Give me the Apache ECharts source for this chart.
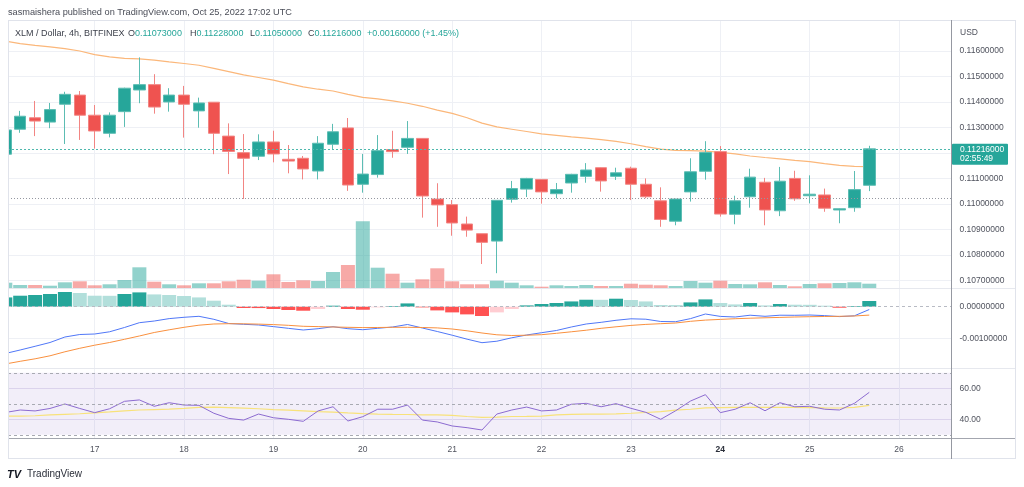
<!DOCTYPE html>
<html><head><meta charset="utf-8">
<script src="https://cdn.jsdelivr.net/npm/echarts@6/dist/echarts.min.js"></script>
<style>html,body{margin:0;padding:0;background:#fff;}#c{width:1024px;height:487px;}</style>
</head><body><div id="c"></div>
<script>
// ---- data (XLM/USD 4h, Bitfinex, Oct 16 00:00 → Oct 25 16:00) ----
const opens = [0.11195,0.11293,0.11338,0.11321,0.11391,0.11427,0.11348,0.11277,0.11362,0.11447,
0.11468,0.11400,0.11427,0.11365,0.11399,0.11266,0.11201,0.11187,0.11243,0.11175,
0.11179,0.11129,0.11234,0.11298,0.11077,0.11115,0.11213,0.11222,0.11257,0.11019,
0.10997,0.10921,0.10883,0.10854,0.11018,0.11058,0.11096,0.11040,0.11082,0.11108,
0.11142,0.11108,0.11140,0.11077,0.11012,0.10932,0.11047,0.11128,0.11205,0.10959,
0.11028,0.11085,0.10973,0.11100,0.11032,0.11035,0.10976,0.10985,0.11073];
const highs = [0.11305,0.11365,0.11404,0.11396,0.11440,0.11443,0.11388,0.11359,0.11456,0.11575,
0.11509,0.11454,0.11463,0.11417,0.11399,0.11316,0.11274,0.11273,0.11287,0.11231,
0.11188,0.11266,0.11314,0.11337,0.11196,0.11270,0.11287,0.11325,0.11258,0.11081,
0.11015,0.10950,0.10883,0.11015,0.11090,0.11102,0.11097,0.11082,0.11118,0.11160,
0.11143,0.11142,0.11146,0.11100,0.11065,0.11020,0.11179,0.11246,0.11227,0.11032,
0.11138,0.11102,0.11145,0.11130,0.11112,0.11060,0.10982,0.11129,0.11228];
const lows = [0.11180,0.11279,0.11266,0.11297,0.11235,0.11251,0.11217,0.11261,0.11302,0.11395,
0.11354,0.11362,0.11260,0.11299,0.11195,0.11117,0.11019,0.11172,0.11163,0.11120,
0.11096,0.11096,0.11214,0.11051,0.11044,0.11103,0.11181,0.11196,0.10946,0.10910,
0.10875,0.10871,0.10764,0.10728,0.11005,0.11027,0.11001,0.11022,0.11044,0.11083,
0.11048,0.11094,0.11015,0.11022,0.10910,0.10916,0.11009,0.11095,0.10950,0.10920,
0.10985,0.10916,0.10952,0.11012,0.11002,0.10969,0.10924,0.10969,0.11050];
const closes = [0.11290,0.11344,0.11325,0.11370,0.11430,0.11348,0.11286,0.11348,0.11454,0.11468,
0.11380,0.11427,0.11391,0.11396,0.11277,0.11206,0.11179,0.11243,0.11196,0.11168,
0.11137,0.11238,0.11283,0.11074,0.11117,0.11209,0.11205,0.11257,0.11031,0.10996,
0.10925,0.10897,0.10849,0.11014,0.11060,0.11100,0.11047,0.11056,0.11116,0.11133,
0.11090,0.11122,0.11077,0.11028,0.10939,0.11019,0.11126,0.11202,0.10960,0.11012,
0.11105,0.10976,0.11089,0.11020,0.11038,0.10983,0.10981,0.11056,0.11216];
const movingAvg = [0.11639,0.11629,0.11622,0.11616,0.11609,0.11600,0.11586,0.11577,0.11571,0.11569,
0.11564,0.11557,0.11551,0.11544,0.11532,0.11519,0.11506,0.11496,0.11486,0.11472,
0.11459,0.11450,0.11443,0.11430,0.11418,0.11412,0.11404,0.11395,0.11383,0.11368,
0.11355,0.11338,0.11317,0.11302,0.11293,0.11284,0.11275,0.11269,0.11263,0.11258,
0.11252,0.11245,0.11236,0.11225,0.11215,0.11210,0.11209,0.11207,0.11202,0.11196,
0.11188,0.11182,0.11177,0.11171,0.11166,0.11158,0.11151,0.11147,0.11146];
const volume = [5.3,3,3,2.3,5.7,6.7,2.7,3.7,8,20.7,
6.3,3.7,2.7,4.7,4.7,6.7,8.3,7.3,13.7,6,
7.7,7,16,23,66.7,20.3,14.3,5.3,8.7,19.7,
6.7,3.7,3.7,7.3,5.3,2.7,1.3,2.7,2,3,
2,2,4.3,3.3,2.7,2,7,5.3,7.3,4,
3.7,5.7,3,1.7,4,4.7,5,5.7,4.3];
const macdHist = [0.000294,0.000348,0.000370,0.000402,0.000465,0.000434,0.000348,0.000345,0.000402,0.000453,
0.000389,0.000370,0.000338,0.000294,0.000190,0.000063,-0.000041,-0.000043,-0.000073,-0.000104,
-0.000127,-0.000073,0.000032,-0.000073,-0.000095,-0.000022,0.000022,0.000104,-0.000022,-0.000117,
-0.000180,-0.000243,-0.000294,-0.000180,-0.000073,0.000041,0.000085,0.000117,0.000167,0.000221,
0.000218,0.000253,0.000212,0.000167,0.000054,0.000052,0.000136,0.000231,0.000117,0.000073,
0.000117,0.000041,0.000085,0.000063,0.000060,0.000032,-0.000032,0.000022,0.000180];
const macdLine = [-0.001481,-0.001370,-0.001253,-0.001133,-0.000959,-0.000880,-0.000864,-0.000794,-0.000658,-0.000506,
-0.000453,-0.000377,-0.000335,-0.000304,-0.000399,-0.000532,-0.000557,-0.000579,-0.000630,-0.000684,
-0.000737,-0.000696,-0.000633,-0.000696,-0.000728,-0.000684,-0.000642,-0.000563,-0.000674,-0.000785,
-0.000902,-0.001028,-0.001139,-0.001092,-0.000984,-0.000896,-0.000823,-0.000753,-0.000642,-0.000547,
-0.000494,-0.000430,-0.000383,-0.000396,-0.000468,-0.000475,-0.000377,-0.000231,-0.000307,-0.000326,
-0.000269,-0.000304,-0.000269,-0.000272,-0.000263,-0.000282,-0.000313,-0.000288,-0.000089];
const signalLine = [-0.001813,-0.001728,-0.001649,-0.001554,-0.001427,-0.001316,-0.001218,-0.001133,-0.001032,-0.000927,
-0.000816,-0.000731,-0.000652,-0.000585,-0.000547,-0.000538,-0.000541,-0.000551,-0.000566,-0.000589,
-0.000620,-0.000630,-0.000642,-0.000652,-0.000661,-0.000658,-0.000652,-0.000652,-0.000658,-0.000671,
-0.000706,-0.000763,-0.000832,-0.000889,-0.000911,-0.000902,-0.000886,-0.000842,-0.000794,-0.000744,
-0.000684,-0.000636,-0.000592,-0.000560,-0.000538,-0.000516,-0.000462,-0.000424,-0.000402,-0.000380,
-0.000364,-0.000351,-0.000339,-0.000326,-0.000316,-0.000310,-0.000304,-0.000294,-0.000266];
const rsi = [44.4,46.0,45.4,47.0,49.9,47.0,44.3,46.8,51.6,52.5,
48.4,50.7,49.2,49.0,43.9,40.6,39.5,43.4,41.0,40.0,
38.7,45.4,48.1,38.9,41.7,46.5,46.5,49.2,39.5,38.3,
35.7,34.6,33.1,43.4,46.0,47.9,45.4,46.0,49.7,50.3,
48.1,50.1,47.1,44.5,40.0,45.5,51.8,55.9,44.3,46.5,
50.7,45.5,50.7,48.1,48.4,46.5,46.0,50.3,57.4];
const rsiMa = [42.1,42.1,42.3,42.8,43.2,43.6,44.2,44.8,45.5,46.0,
46.3,46.6,47.1,47.7,47.8,47.5,47.2,46.8,46.3,45.9,
45.5,45.0,44.6,44.1,43.7,43.4,43.2,43.1,42.9,42.8,
42.5,41.8,41.2,41.4,41.8,41.9,42.1,42.8,43.2,43.3,
43.4,43.5,43.9,44.4,45.0,45.9,46.5,47.4,47.6,47.7,
47.7,47.7,47.7,47.7,47.6,47.4,47.3,47.7,49.0];
const dayTicks = [6,12,18,24,30,36,42,48,54,60];
const dayLabels = ['17','18','19','20','21','22','23','24','25','26'];
const priceGridTicks = [0.107,0.108,0.109,0.110,0.111,0.112,0.113,0.114,0.115,0.116];
const priceLabelTicks = [0.107,0.108,0.109,0.110,0.111,0.113,0.114,0.115,0.116];
const macdLabelTicks = [0, -0.001];
const rsiLabelTicks = [40, 60];
const refLine = 0.11022;
const countdown = '02:55:49';

// ---- chart ----
const FONT = '"Liberation Sans", Arial, sans-serif';
const UP = '#26a69a', DOWN = '#ef5350';
const N = closes.length;
const chart = echarts.init(document.getElementById('c'), null, {renderer: 'canvas'});
const G = [{top: 20, height: 268}, {top: 288, height: 80}, {top: 368, height: 70}];
const grids = G.map(g => ({left: 8, right: 72.5, top: g.top, height: g.height, containLabel: false}));
const xMin = 0.181, xMax = 63.52;
const gridLineColor = '#eef0f5';
const xAxes = [0,1,2].map(k => ({
  type: 'value', gridIndex: k, min: xMin, max: xMax,
  axisLine: {show: false},
  axisTick: {show: false, customValues: dayTicks},
  splitLine: {show: true, lineStyle: {color: gridLineColor, width: 1}},
  axisLabel: k === 2 ? {
    show: true, customValues: dayTicks, margin: 7, color: '#50535e', fontSize: 8.5, fontFamily: FONT,
    formatter: v => { const l = dayLabels[dayTicks.indexOf(Math.round(v))] || ''; return l === '24' ? '{b|' + l + '}' : l; },
    rich: {b: {fontWeight: 'bold', color: '#2a2e39', fontSize: 8.5, fontFamily: FONT}}
  } : {show: false}
}));
const labelStyle = {color: '#50535e', fontSize: 8.5, fontFamily: FONT, margin: 8};
const yAxes = [
  {type: 'value', gridIndex: 0, position: 'right', min: 0.1066986, max: 0.1172166, scale: true,
   axisLine: {show: false}, axisTick: {show: false, customValues: priceGridTicks},
   splitLine: {show: true, lineStyle: {color: gridLineColor}},
   axisLabel: Object.assign({customValues: priceLabelTicks, formatter: v => v.toFixed(8)}, labelStyle)},
  {type: 'value', gridIndex: 0, min: 0, max: 268, show: false},
  {type: 'value', gridIndex: 1, position: 'right', min: -0.00194, max: 0.000592,
   axisLine: {show: false}, axisTick: {show: false, customValues: [-0.001]},
   splitLine: {show: true, lineStyle: {color: gridLineColor}},
   axisLabel: Object.assign({customValues: macdLabelTicks, formatter: v => v.toFixed(8)}, labelStyle)},
  {type: 'value', gridIndex: 2, position: 'right', min: 27.94, max: 73.1,
   axisLine: {show: false}, axisTick: {show: false, customValues: rsiLabelTicks},
   splitLine: {show: true, lineStyle: {color: '#e6e1f1'}},
   axisLabel: Object.assign({customValues: rsiLabelTicks, formatter: v => v.toFixed(2)}, labelStyle)}
];

const candleData = opens.map((o, i) => [i, o, closes[i], lows[i], highs[i]]);
const volData = volume.map((v, i) => ({value: [i, v], itemStyle: {color: closes[i] >= opens[i] ? 'rgba(38,166,154,0.5)' : 'rgba(239,83,80,0.5)'}}));
const histData = macdHist.map((h, i) => {
  const prev = i === 0 ? -Infinity : macdHist[i - 1];
  let c;
  if (h >= 0) c = h > prev ? '#26a69a' : '#b2dfdb';
  else c = h < prev ? '#ff5252' : '#ffcdd2';
  return {value: [i, h], itemStyle: {color: c}};
});
const pair = arr => arr.map((v, i) => [i, v]);
const lastClose = closes[N - 1];

chart.setOption({
  animation: false,
  backgroundColor: '#ffffff',
  grid: grids, xAxis: xAxes, yAxis: yAxes,
  series: [
    {type: 'bar', name: 'Volume', xAxisIndex: 0, yAxisIndex: 1, barWidth: 14, data: volData, z: 1, silent: true},
    {type: 'candlestick', name: 'XLMUSD', xAxisIndex: 0, yAxisIndex: 0, barWidth: 12, z: 3,
     encode: {x: 0, y: [1, 2, 3, 4]}, data: candleData,
     itemStyle: {color: UP, color0: DOWN, borderColor: '#5cbdb3', borderColor0: '#f28583', borderWidth: 1}},
    {type: 'line', name: 'MA', xAxisIndex: 0, yAxisIndex: 0, data: pair(movingAvg), showSymbol: false, z: 2,
     lineStyle: {color: '#fbb77a', width: 1.2},
     markLine: {silent: true, symbol: 'none', label: {show: false}, precision: 8,
       data: [
         {yAxis: lastClose, lineStyle: {color: '#4fb8ad', type: [2, 2], width: 1}},
         {yAxis: refLine, lineStyle: {color: '#9598a1', type: [1, 2], width: 1}}
       ]}},
    {type: 'bar', name: 'Histogram', xAxisIndex: 1, yAxisIndex: 2, barWidth: 14, data: histData, z: 1,
     markLine: {silent: true, symbol: 'none', label: {show: false}, precision: 8,
       data: [{yAxis: 0, lineStyle: {color: '#b8bbc4', type: [3, 3], width: 1}}]}},
    {type: 'line', name: 'MACD', xAxisIndex: 1, yAxisIndex: 2, data: pair(macdLine), showSymbol: false, z: 3,
     lineStyle: {color: '#5077f7', width: 1}},
    {type: 'line', name: 'Signal', xAxisIndex: 1, yAxisIndex: 2, data: pair(signalLine), showSymbol: false, z: 3,
     lineStyle: {color: '#f9903f', width: 1}},
    {type: 'line', name: 'RSI', xAxisIndex: 2, yAxisIndex: 3, data: pair(rsi), showSymbol: false, z: 3,
     lineStyle: {color: '#8c6bd0', width: 1},
     markArea: {silent: true, itemStyle: {color: 'rgba(126,87,194,0.1)'}, data: [[{yAxis: 30}, {yAxis: 70}]]},
     markLine: {silent: true, symbol: 'none', label: {show: false},
       lineStyle: {color: '#a8aab2', type: [3, 3], width: 1},
       data: [{yAxis: 70}, {yAxis: 50}, {yAxis: 30}]}},
    {type: 'line', name: 'RSI MA', xAxisIndex: 2, yAxisIndex: 3, data: pair(rsiMa), showSymbol: false, z: 2,
     lineStyle: {color: '#f8e27a', width: 1.2}}
  ]
});

// ---- decorations ----
const yLast = chart.convertToPixel({yAxisIndex: 0}, lastClose);
const change = lastClose - closes[N - 2];
const pct = change / closes[N - 2] * 100;
const sgn = change >= 0 ? '+' : '-';
const valColor = lastClose >= opens[N - 1] ? UP : DOWN;
const fnt = (s, w) => (w || 'normal') + ' ' + s + 'px ' + FONT;
const hl = (x1, y, x2, c) => ({type: 'line', silent: true, z: 50, shape: {x1, y1: y, x2, y2: y}, style: {stroke: c, lineWidth: 1}});
const vl = (x, y1, y2, c) => ({type: 'line', silent: true, z: 50, shape: {x1: x, y1, x2: x, y2}, style: {stroke: c, lineWidth: 1}});
const ohlc = (x, k, v) => ({type: 'text', x, y: 34, z: 60, style: {
  text: '{k|' + k + '}{v|' + v + '}', textVerticalAlign: 'middle',
  rich: {k: {fill: '#3b3f4a', font: fnt(9)}, v: {fill: valColor, font: fnt(9)}}}});
const graphics = [
  {type: 'rect', silent: true, z: 40, shape: {x: 0, y: 0, width: 8, height: 487}, style: {fill: '#fff'}},
  hl(8, 20.5, 1016, '#e0e3eb'), hl(8, 288.5, 1016, '#e6e8ee'), hl(8, 368.5, 1016, '#e6e8ee'),
  hl(8, 438.5, 1016, '#a3a6af'), hl(8, 458.5, 1016, '#e0e3eb'),
  vl(8.5, 20, 459, '#e0e3eb'), vl(1015.5, 20, 459, '#e0e3eb'), vl(951.5, 20, 459, '#9598a1'),
  {type: 'text', x: 8, y: 12.5, z: 60, style: {text: 'sasmaishera published on TradingView.com, Oct 25, 2022 17:02 UTC', fill: '#4a4d57', font: fnt(9.2), textVerticalAlign: 'middle'}},
  {type: 'text', x: 15, y: 34, z: 60, style: {text: 'XLM / Dollar, 4h, BITFINEX', fill: '#3b3f4a', font: fnt(9), textVerticalAlign: 'middle'}},
  ohlc(128, 'O', opens[N - 1].toFixed(8)), ohlc(190, 'H', highs[N - 1].toFixed(8)),
  ohlc(250, 'L', lows[N - 1].toFixed(8)), ohlc(308, 'C', lastClose.toFixed(8)),
  {type: 'text', x: 367, y: 34, z: 60, style: {text: sgn + Math.abs(change).toFixed(8) + ' (' + sgn + Math.abs(pct).toFixed(2) + '%)', fill: valColor, font: fnt(9), textVerticalAlign: 'middle'}},
  {type: 'text', x: 960, y: 32.5, z: 60, style: {text: 'USD', fill: '#50535e', font: fnt(8.5), textVerticalAlign: 'middle'}},
  {type: 'group', x: 952, y: yLast - 5, z: 70, children: [
    {type: 'rect', z: 70, shape: {x: 0, y: 0, width: 56, height: 21, r: 1}, style: {fill: UP}},
    {type: 'text', z: 71, x: 8, y: 6.3, style: {text: lastClose.toFixed(8), fill: '#fff', font: fnt(8.5), textVerticalAlign: 'middle'}},
    {type: 'text', z: 71, x: 8, y: 15.3, style: {text: countdown, fill: '#fff', font: fnt(8.5), textVerticalAlign: 'middle'}}
  ]},
  {type: 'text', x: 7, y: 474.5, z: 60, style: {text: 'TV', fill: '#131722', font: 'italic 900 11px ' + FONT, textVerticalAlign: 'middle'}},
  {type: 'text', x: 27, y: 474.5, z: 60, style: {text: 'TradingView', fill: '#2a2e39', font: fnt(10), textVerticalAlign: 'middle'}}
];
chart.setOption({graphic: graphics});
</script></body></html>
